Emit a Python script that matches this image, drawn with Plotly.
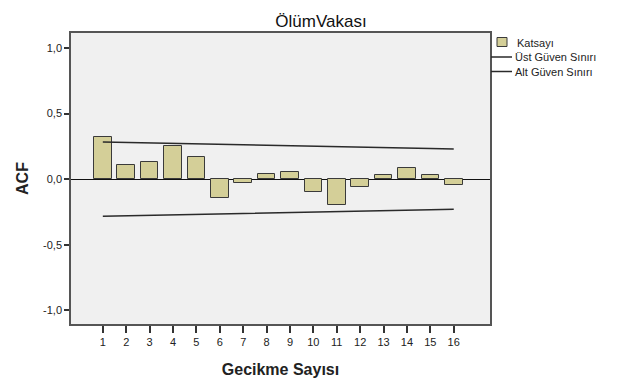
import plotly.graph_objects as go

lags = list(range(1, 17))
acf_values = [0.32, 0.108, 0.128, 0.252, 0.169, -0.147, -0.026, 0.042,
              0.055, -0.096, -0.200, -0.056, 0.035, 0.088, 0.030, -0.048]
upper_limit = [0.283, 0.279, 0.276, 0.273, 0.269, 0.266, 0.262, 0.259,
               0.255, 0.252, 0.248, 0.245, 0.241, 0.237, 0.233, 0.230]
lower_limit = [-0.283, -0.279, -0.276, -0.273, -0.269, -0.266, -0.262, -0.259,
               -0.255, -0.252, -0.248, -0.245, -0.241, -0.237, -0.233, -0.230]
y_tick_vals = [-1.0, -0.5, 0.0, 0.5, 1.0]
y_tick_text = ["-1,0", "-0,5", "0,0", "0,5", "1,0"]
legend_labels = ["Katsayı", "Üst Güven Sınırı", "Alt Güven Sınırı"]

W, H = 618, 378
L, R, T, B = 71, 128, 33, 54
pw, ph = W - L - R, H - T - B

bar_color = "#D4CF98"
line_color = "#2a2a2a"

fig = go.Figure()
fig.add_trace(go.Bar(
    x=lags, y=acf_values, name=legend_labels[0], width=0.75,
    marker=dict(color=bar_color, line=dict(color="#3a3a3a", width=1)),
))
fig.add_trace(go.Scatter(
    x=lags, y=upper_limit, mode="lines", name=legend_labels[1],
    line=dict(color=line_color, width=1.5),
))
fig.add_trace(go.Scatter(
    x=lags, y=lower_limit, mode="lines", name=legend_labels[2],
    line=dict(color=line_color, width=1.5),
))

# manual legend (paper coordinates from pixel positions)
def px(xp):
    return (xp - L) / pw

def py(yp):
    return 1 - (yp - T) / ph

shapes = [
    dict(type="rect", xref="paper", yref="paper",
         x0=px(497), x1=px(507), y0=py(46.5), y1=py(37.5),
         fillcolor=bar_color, line=dict(color="#3a3a3a", width=1)),
    dict(type="line", xref="paper", yref="paper",
         x0=px(491), x1=px(512), y0=py(57), y1=py(57),
         line=dict(color=line_color, width=1.5)),
    dict(type="line", xref="paper", yref="paper",
         x0=px(491), x1=px(512), y0=py(71.5), y1=py(71.5),
         line=dict(color=line_color, width=1.5)),
]
annotations = [
    dict(text=legend_labels[0], xref="paper", yref="paper", x=px(515), y=py(42.5),
         xanchor="left", yanchor="middle", showarrow=False),
    dict(text=legend_labels[1], xref="paper", yref="paper", x=px(512.5), y=py(57),
         xanchor="left", yanchor="middle", showarrow=False),
    dict(text=legend_labels[2], xref="paper", yref="paper", x=px(512.5), y=py(71.5),
         xanchor="left", yanchor="middle", showarrow=False),
]

fig.update_layout(
    width=W, height=H,
    margin=dict(l=L, r=R, t=T, b=B, autoexpand=False),
    paper_bgcolor="white", plot_bgcolor="#F0F0F0",
    font=dict(family="Liberation Sans, Arial, sans-serif", size=11, color="#222"),
    title=dict(text="ÖlümVakası", x=321 / W, xref="container", xanchor="center",
               y=1 - 21 / H, yanchor="middle", font=dict(size=17, color="#111")),
    showlegend=False,
    shapes=shapes,
    annotations=annotations,
    bargap=0,
    xaxis=dict(range=[-0.36, 17.55], tickvals=lags, ticks="outside", ticklen=7,
               tickwidth=1.5, tickcolor="#333", showgrid=False, zeroline=False,
               showline=True, linecolor="#555", linewidth=1.5, mirror=True,
               automargin=False,
               title=dict(text="<b>Gecikme Sayısı</b>", font=dict(size=16), standoff=17),
               tickfont=dict(size=11)),
    yaxis=dict(range=[-1.105, 1.115], tickvals=y_tick_vals, ticktext=y_tick_text,
               ticks="outside", ticklen=5, tickwidth=1.5, tickcolor="#333", showgrid=False,
               zeroline=True, zerolinecolor="#111", zerolinewidth=1.2,
               showline=True, linecolor="#555", linewidth=1.5, mirror=True,
               automargin=False,
               title=dict(text="<b>ACF</b>", font=dict(size=16), standoff=10),
               tickfont=dict(size=11)),
)

fig.write_html(
    "out.html",
    config={"displayModeBar": False},
    post_script="document.body.style.margin='0';document.body.style.overflow='hidden';",
)
